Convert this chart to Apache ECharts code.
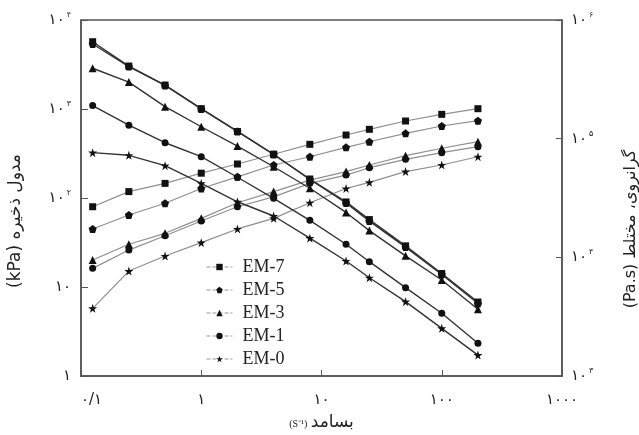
<!DOCTYPE html>
<html>
<head>
<meta charset="utf-8">
<script src="https://cdn.jsdelivr.net/npm/echarts@6/dist/echarts.min.js"></script>
<style>
html,body{margin:0;padding:0;background:#fff;}
#c{width:639px;height:435px;}
</style>
</head>
<body>
<div id="c"></div>
<script>
// Frequency (s^-1)
const freq = [0.125, 0.25, 0.5, 1, 2, 4, 8, 16, 25, 50, 100, 200];
const seriesNames = ['EM-7', 'EM-5', 'EM-3', 'EM-1', 'EM-0'];
// Storage modulus G' (kPa) — left axis
const gEM7 = [79.8, 118, 146, 190, 241, 310, 401, 510, 591, 733, 871, 1008];
const gEM5 = [44.9, 64.4, 87.2, 128, 173, 235, 291, 371, 429, 533, 644, 739];
const gEM3 = [20.1, 30.2, 40.1, 59.1, 88.5, 118, 159, 198, 235, 299, 362, 429];
const gEM1 = [16.2, 26.0, 37.7, 55.2, 79.8, 103, 146, 181, 219, 272, 323, 377];
const gEM0 = [5.76, 15.1, 22.3, 31.5, 44.9, 59.1, 88.5, 128, 150, 198, 235, 291];
// Complex viscosity (Pa.s) — right axis
const vEM7 = [656000, 409000, 283000, 179000, 115000, 73800, 45700, 29300, 20800, 12500, 7310, 4200];
const vEM5 = [628000, 405000, 281000, 178000, 115000, 73500, 45300, 28700, 20200, 12200, 7170, 4080];
const vEM3 = [392000, 300000, 186000, 126000, 86700, 58000, 38200, 23900, 16800, 10300, 6440, 3650];
const vEM1 = [190000, 130000, 92400, 70500, 47300, 31400, 20500, 12900, 9190, 5550, 3380, 1890];
const vEM0 = [76200, 72400, 59200, 42000, 29400, 22300, 14500, 9310, 6730, 4230, 2520, 1500];
// Tick labels
const xTickLabels = {'-1': '۰/۱', '0': '۱', '1': '۱۰', '2': '۱۰۰', '3': '۱۰۰۰'};
const faDigits = ['۰','۱','۲','۳','۴','۵','۶','۷','۸','۹'];

const gData = [gEM7, gEM5, gEM3, gEM1, gEM0];
const vData = [vEM7, vEM5, vEM3, vEM1, vEM0];

const STAR = 'path://M0,-1L0.2245,-0.309L0.951,-0.309L0.363,0.118L0.588,0.809L0,0.382L-0.588,0.809L-0.363,0.118L-0.951,-0.309L-0.2245,-0.309Z';
const PENT = 'path://M0,-1L0.951,-0.309L0.588,0.809L-0.588,0.809L-0.951,-0.309Z';
const symbols = ['rect', PENT, 'triangle', 'circle', STAR];
const symSizes = [7, 8, 8, 7, 9];

function pow10Label(v) {
  const e = Math.round(Math.log10(v));
  if (e === 0) return '{b|۱}';
  if (e === 1) return '{b|۱۰}';
  return '{b|۱۰}{s|' + faDigits[e] + '}';
}
const richDigits = {
  b: {fontFamily: 'DejaVu Sans', fontSize: 15, color: '#222'},
  s: {fontFamily: 'DejaVu Sans', fontSize: 8, color: '#222', padding: [0, 0, 10, 2]}
};

const series = [];
seriesNames.forEach((n, i) => {
  series.push({
    name: n, type: 'line', xAxisIndex: 0, yAxisIndex: 0,
    data: freq.map((f, j) => [f, gData[i][j]]),
    symbol: symbols[i], symbolSize: symSizes[i],
    itemStyle: {color: '#111'},
    lineStyle: {color: '#8f8f8f', width: 1.2},
    z: 2
  });
});
seriesNames.forEach((n, i) => {
  series.push({
    name: n, type: 'line', xAxisIndex: 0, yAxisIndex: 1,
    data: freq.map((f, j) => [f, vData[i][j]]),
    symbol: symbols[i], symbolSize: symSizes[i],
    itemStyle: {color: '#111'},
    lineStyle: {color: '#333', width: 1.4},
    z: 3
  });
});

const chart = echarts.init(document.getElementById('c'));
chart.setOption({
  animation: false,
  backgroundColor: '#fff',
  grid: {left: 81, right: 77, top: 20, bottom: 59, containLabel: false, outerBoundsMode: 'none',
         show: true, borderColor: '#555', borderWidth: 1.5, backgroundColor: 'transparent'},
  legend: {
    data: seriesNames,
    orient: 'vertical', left: 201, top: 253,
    itemWidth: 26, itemHeight: 8, itemGap: 5,
    lineStyle: {type: 'dashed', color: '#999', width: 1},
    textStyle: {fontFamily: 'Liberation Serif', fontSize: 18, color: '#222', lineHeight: 17, padding: [0, 0, 0, 5]}
  },
  xAxis: {
    type: 'log', logBase: 10, min: 0.1, max: 1000,
    name: '{a|(S⁻¹)} {c|بسامد}', nameLocation: 'middle', nameGap: 38,
    nameTextStyle: {rich: {
      a: {fontFamily: 'Liberation Serif', fontSize: 10, color: '#222', padding: [4, 0, 0, 0]},
      c: {fontFamily: 'DejaVu Sans', fontSize: 17, color: '#222'}
    }},
    axisLine: {lineStyle: {color: '#555', width: 1.5}},
    axisTick: {inside: true, length: 6, lineStyle: {color: '#555'}},
    minorTick: {show: false},
    splitLine: {show: false},
    axisLabel: {
      margin: 17,
      formatter: v => xTickLabels[String(Math.round(Math.log10(v)))] || '',
      fontFamily: 'DejaVu Sans', fontSize: 15, color: '#222',
      alignMinLabel: 'left'
    }
  },
  yAxis: [{
    type: 'log', logBase: 10, min: 1, max: 10000, position: 'left',
    name: '(kPa) مدول ذخیره', nameLocation: 'middle', nameGap: 57, nameRotate: 90,
    nameTextStyle: {fontFamily: 'DejaVu Sans', fontSize: 17, color: '#222', padding: [0, 46, 0, 0]},
    axisLine: {show: true, lineStyle: {color: '#555', width: 1.5}},
    axisTick: {inside: true, length: 7, lineStyle: {color: '#555'}},
    splitLine: {show: false},
    axisLabel: {margin: 10, formatter: pow10Label, rich: richDigits}
  }, {
    type: 'log', logBase: 10, min: 1000, max: 1000000, position: 'right',
    name: '(Pa.s) گرانروی، مختلط', nameLocation: 'middle', nameGap: 61, nameRotate: 90,
    nameTextStyle: {fontFamily: 'DejaVu Sans', fontSize: 16, color: '#222', padding: [0, 62, 0, 0]},
    axisLine: {show: true, lineStyle: {color: '#555', width: 1.5}},
    axisTick: {inside: true, length: 6, lineStyle: {color: '#555'}},
    splitLine: {show: false},
    axisLabel: {margin: 9, formatter: pow10Label, rich: richDigits}
  }],
  series: series
});
</script>
</body>
</html>
